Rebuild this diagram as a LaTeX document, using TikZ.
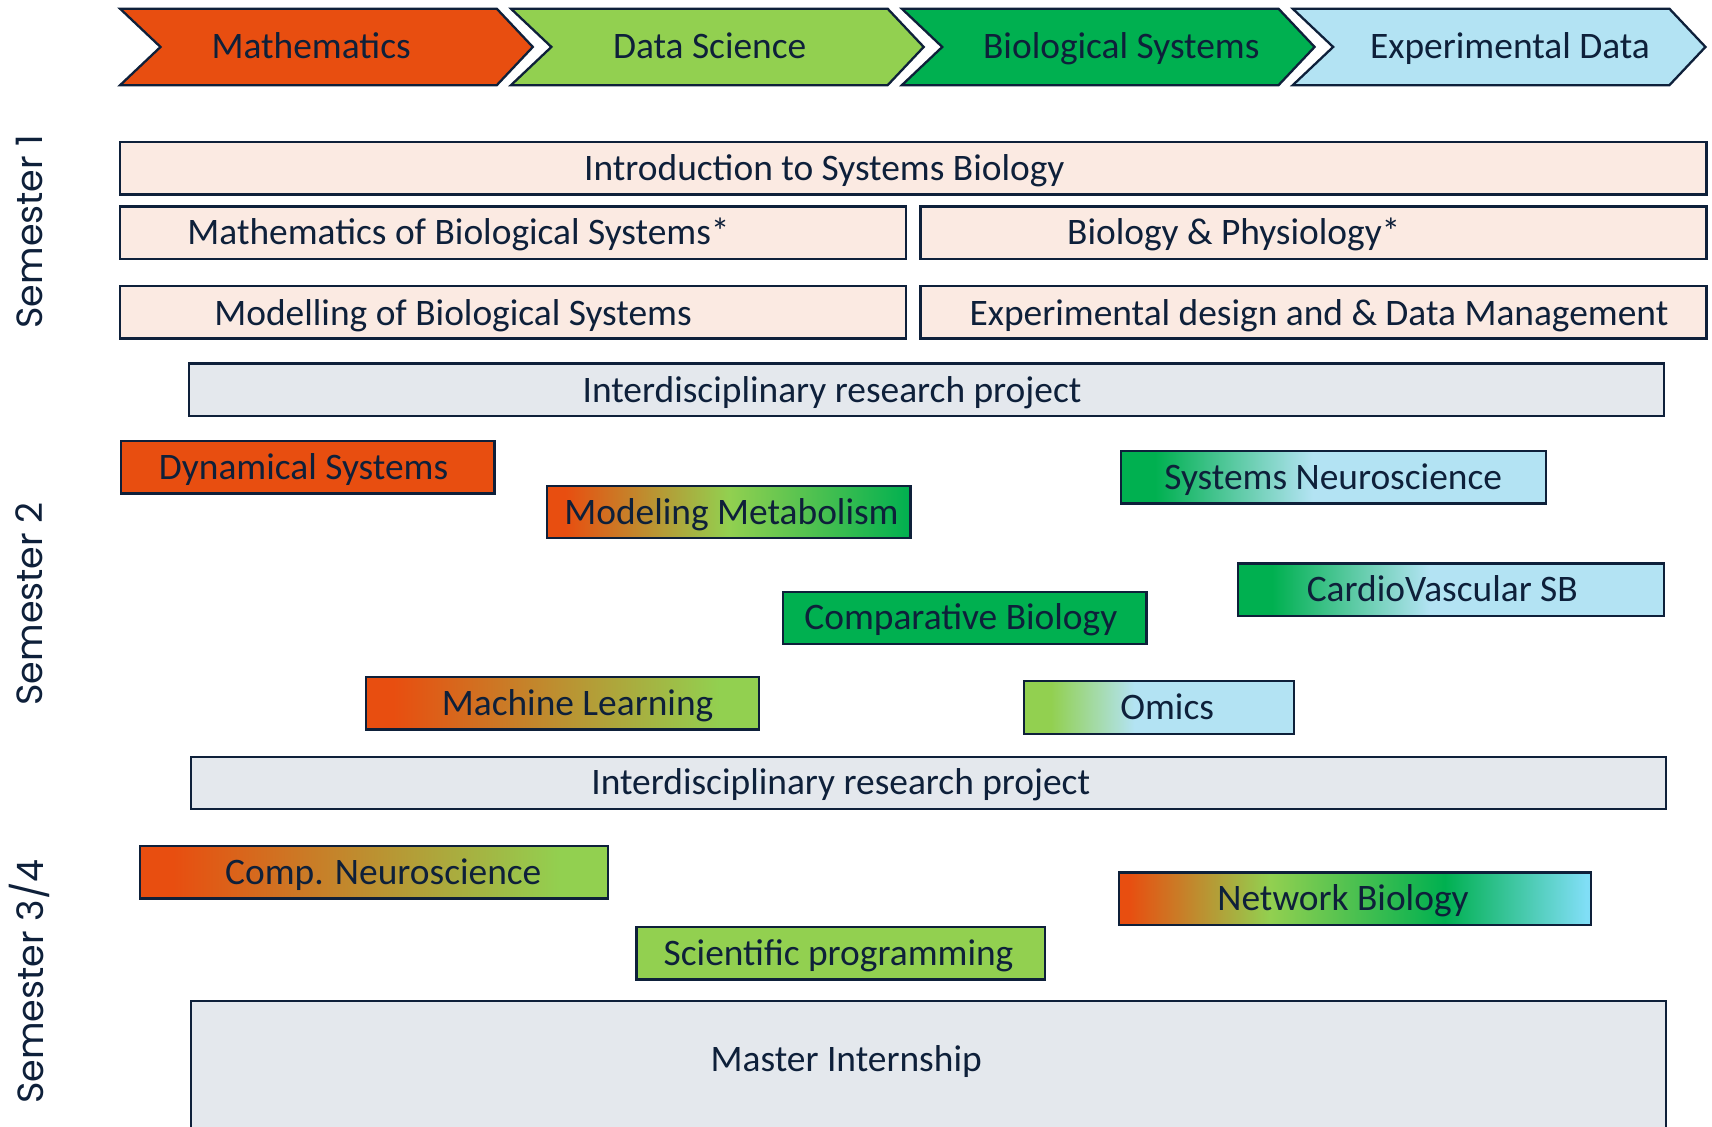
\documentclass[tikz,border=0pt]{standalone}
\usepackage{fontspec}
\setmainfont{Carlito}
\newfontfamily\semfont{Poppins}

\definecolor{mathorange}{RGB}{232,78,16}
\definecolor{datagreen}{RGB}{146,208,80}
\definecolor{biogreen}{RGB}{0,176,80}
\definecolor{expblue}{RGB}{179,227,243}
\definecolor{netcyan}{RGB}{128,222,246}
\definecolor{semonepeach}{RGB}{251,234,226}
\definecolor{projgray}{RGB}{228,232,237}
\definecolor{navy}{RGB}{14,32,58}

\pgfdeclarehorizontalshading{metab}{100bp}{color(0bp)=(mathorange); color(27.5bp)=(mathorange); color(50bp)=(datagreen); color(75bp)=(biogreen); color(100bp)=(biogreen)}
\pgfdeclarehorizontalshading{neuro}{100bp}{color(0bp)=(biogreen); color(29bp)=(biogreen); color(47.5bp)=(expblue); color(100bp)=(expblue)}
\pgfdeclarehorizontalshading{mathdata}{100bp}{color(0bp)=(mathorange); color(28.5bp)=(mathorange); color(70bp)=(datagreen); color(100bp)=(datagreen)}
\pgfdeclarehorizontalshading{dataexp}{100bp}{color(0bp)=(datagreen); color(30bp)=(datagreen); color(45.5bp)=(expblue); color(100bp)=(expblue)}
\pgfdeclarehorizontalshading{network}{100bp}{color(0bp)=(mathorange); color(26bp)=(mathorange); color(41bp)=(datagreen); color(59.5bp)=(biogreen); color(74.5bp)=(netcyan); color(100bp)=(netcyan)}

\begin{document}
\begin{tikzpicture}[x=0.02cm,y=-0.02cm,line width=1.2pt,
  box/.style={draw=navy},
  lbl/.style={text=navy,font=\fontsize{19.5}{22}\selectfont,text height=12.5pt,text depth=0pt,inner sep=0pt},
  sem/.style={text=navy,font=\semfont\fontsize{19}{22}\selectfont,rotate=90,inner sep=0pt}]
  \useasboundingbox (0,0) rectangle (1568,1032);
  \clip (0,0) rectangle (1568,1032);
  \foreach \x/\col/\cx/\nm/\txt in {110/mathorange/285/math/Mathematics, 468/datagreen/650/data/Data Science,
    826/biogreen/1027/bio/Biological Systems, 1184/expblue/1383/exp/Experimental Data}{
    \draw[box, fill=\col] (\x,8) -- ++(345,0) -- ++(33,35) -- ++(-33,35) -- ++(-345,0) -- ++(37,-35) -- cycle;
    \node[lbl] (\nm) at (\cx,43) {\txt};
  }
  \node[sem] (semone) at (27,212) {Semester 1};
  \node[sem] (semtwo) at (27,553) {Semester 2};
  \node[sem] (semthree) at (27,899) {Semester 3/4};

  \draw[box, fill=semonepeach] (110,130) rectangle (1563,178);
  \node[lbl] (intro) at (755,154) {Introduction to Systems Biology};
  \draw[box, fill=semonepeach] (110,189) rectangle (830,237);
  \node[lbl] (mathbio) at (420,213) {Mathematics of Biological Systems*};
  \draw[box, fill=semonepeach] (843,189) rectangle (1563,237);
  \node[lbl] (physio) at (1130,213) {Biology \& Physiology*};
  \draw[box, fill=semonepeach] (110,262) rectangle (830,310);
  \node[lbl] (modbio) at (415,287) {Modelling of Biological Systems};
  \draw[box, fill=semonepeach] (843,262) rectangle (1563,310);
  \node[lbl] (expdesign) at (1208,287) {Experimental design and \& Data Management};
  \draw[box, fill=projgray] (173,333) rectangle (1524,381);
  \node[lbl] (projone) at (762,358) {Interdisciplinary research project};

  \draw[box, fill=mathorange] (111,404) rectangle (453,452);
  \node[lbl] (dynsys) at (278,428) {Dynamical Systems};
  \draw[box, shading=metab] (501,445) rectangle (834,493);
  \node[lbl] (metabol) at (670,469) {Modeling Metabolism};
  \draw[box, shading=neuro] (1027,413) rectangle (1416,461);
  \node[lbl] (sysneuro) at (1221,437) {Systems Neuroscience};
  \draw[box, shading=neuro] (1134,516) rectangle (1524,564);
  \node[lbl] (cardio) at (1321,540) {CardioVascular SB};
  \draw[box, fill=biogreen] (717,542) rectangle (1050,590);
  \node[lbl] (compbio) at (880,566) {Comparative Biology};
  \draw[box, shading=mathdata] (335,620) rectangle (695,668);
  \node[lbl] (mlearn) at (529,644) {Machine Learning};
  \draw[box, shading=dataexp] (938,624) rectangle (1185,672);
  \node[lbl] (omics) at (1069,648) {Omics};
  \draw[box, fill=projgray] (175,693) rectangle (1526,741);
  \node[lbl] (projtwo) at (770,717) {Interdisciplinary research project};

  \draw[box, shading=mathdata] (128,775) rectangle (557,823);
  \node[lbl] (compneuro) at (351,799) {Comp. Neuroscience};
  \draw[box, shading=network] (1025,799) rectangle (1457,847);
  \node[lbl] (netbio) at (1230,823) {Network Biology};
  \draw[box, fill=datagreen] (583,849) rectangle (957,897);
  \node[lbl] (sciprog) at (768,873) {Scientific programming};
  \draw[box, fill=projgray] (175,917) rectangle (1526,1060);
  \node[lbl] (intern) at (775,970) {Master Internship};
\end{tikzpicture}
\end{document}
